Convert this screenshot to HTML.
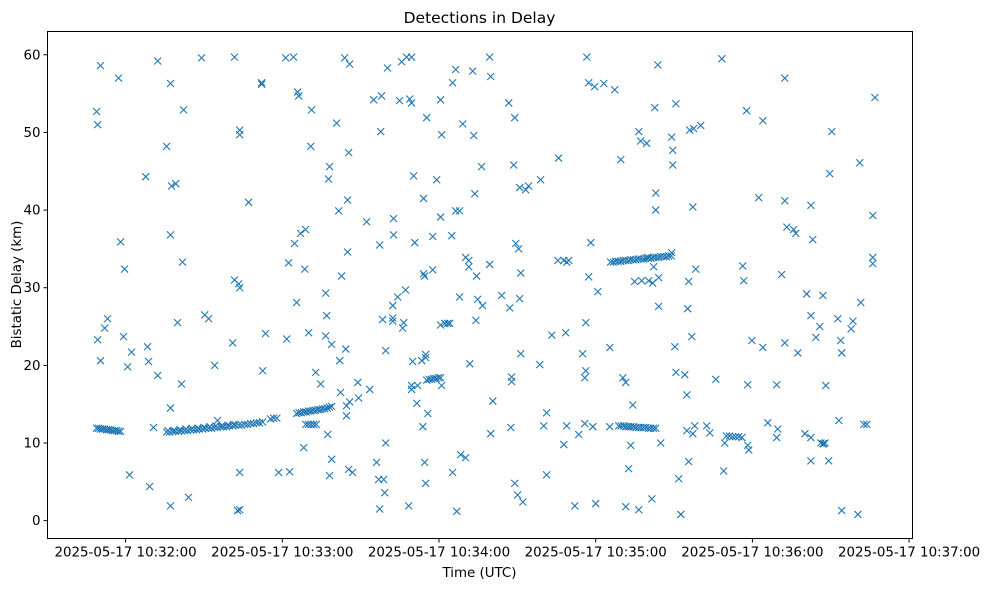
<!DOCTYPE html>
<html><head><meta charset="utf-8"><style>
body{margin:0;background:#fff;}
svg{display:block;font-family:"DejaVu Sans","Liberation Sans",sans-serif;}
</style></head><body>
<svg id="chart" width="989" height="590" viewBox="0 0 989 590" xmlns="http://www.w3.org/2000/svg">
<rect x="0" y="0" width="989" height="590" fill="#fff"/>
<text x="479.5" y="23" font-size="15.5" text-anchor="middle">Detections in Delay</text>
<g id="marks"></g>
<rect x="47.5" y="31.5" width="865" height="507" fill="none" stroke="#000" stroke-width="1"/>
<g id="xaxis"></g>
<g id="yaxis"></g>
<text x="479.5" y="577" font-size="13.4" text-anchor="middle">Time (UTC)</text>
<text x="0" y="0" font-size="13.4" text-anchor="middle" transform="translate(21,284.5) rotate(-90)">Bistatic Delay (km)</text>
</svg>
<script>
// seconds after 10:31:00 UTC
const xTickValues = [60, 120, 180, 240, 300, 360];
const xTickLabels = ["2025-05-17 10:32:00","2025-05-17 10:33:00","2025-05-17 10:34:00","2025-05-17 10:35:00","2025-05-17 10:36:00","2025-05-17 10:37:00"];
const yTickValues = [0, 10, 20, 30, 40, 50, 60];
const yTickLabels = ["0","10","20","30","40","50","60"];
// detections: [time seconds, delay km]
const detections = [
[48.9,11.9],[49.7,11.9],[50.4,11.8],[51.2,11.8],[52.0,11.8],[52.7,11.7],[53.5,11.7],[54.3,11.7],[55.0,11.6],[55.8,11.6],[56.6,11.6],[57.3,11.5],[58.1,11.5],
[48.9,52.7],[49.3,51.0],[50.4,58.6],[49.3,23.3],[50.4,20.6],[52.0,24.8],[53.1,26.0],[57.3,57.0],[58.1,35.9],[59.6,32.4],[59.2,23.7],[60.8,19.8],[62.3,21.7],[61.5,5.9],[67.7,44.3],[68.4,22.4],[68.8,20.5],[69.2,4.4],[70.7,12.0],[72.3,18.7],[72.3,59.2],[75.7,48.2],[77.2,56.3],[77.2,36.8],[77.6,43.1],[79.2,43.4],[77.2,14.5],[77.2,1.9],[79.9,25.5],[81.4,17.6],[81.8,33.3],[82.2,52.9],[84.1,3.0],[89.1,59.6],[90.3,26.5],[91.8,26.0],[94.1,20.0],[95.2,12.9],[101.0,22.9],[101.7,59.7],[101.7,31.0],[103.3,30.5],[103.7,30.0],[103.7,50.3],[103.7,49.7],[102.9,1.3],[103.7,1.4],[103.7,6.2],[107.1,41.0],[112.1,56.4],[112.1,56.2],[112.5,19.3],[113.6,24.1],[118.6,6.2],[121.3,59.6],[124.3,59.7],[122.8,6.3],[121.7,23.4],[122.4,33.2],[124.7,35.7],[125.5,28.1],[125.9,55.2],[126.3,54.7],[127.0,37.0],[128.9,37.5],[128.6,32.4],[128.2,9.4],[130.1,24.2],[130.9,48.2],[131.2,52.9],[132.8,19.1],[134.7,17.6],[136.6,29.3],[136.6,23.8],[137.0,26.4],[137.7,44.0],[138.1,45.6],[137.4,11.1],[138.1,5.8],[138.9,7.9],[138.9,22.7],[138.9,14.7],[140.8,51.2],[141.6,39.9],[142.7,31.5],[142.3,16.5],[142.0,20.6],[143.9,59.6],[145.8,58.8],[145.0,41.3],[145.4,47.4],[145.0,34.6],[144.3,22.1],[144.6,14.8],[144.6,13.5],[145.4,6.6],[145.8,15.3],[146.9,6.2],[148.9,17.8],[149.2,15.8],[152.3,38.5],[153.5,16.9],[155.0,54.2],[156.1,7.5],[156.9,5.3],[157.3,1.5],[157.3,35.5],[157.7,50.1],[158.0,54.7],[158.4,25.9],[158.8,5.3],[159.2,3.6],[159.6,10.0],[159.6,21.9],[160.3,58.3],[162.3,27.7],[162.3,26.1],[162.3,25.7],[162.6,38.9],[162.6,36.8],[164.2,28.8],[164.9,54.1],[165.7,59.1],[166.1,24.8],[166.5,25.5],[167.2,29.7],[167.6,59.7],[168.4,1.9],[168.8,54.3],[169.5,16.9],[169.5,17.4],[169.5,53.8],[169.5,59.7],[170.7,35.8],[170.3,44.4],[169.9,20.5],[171.5,15.1],[171.8,17.4],[173.4,20.6],[173.8,12.1],[174.1,41.5],[174.9,21.0],[174.1,31.8],[174.5,31.5],[174.9,21.4],[174.5,7.5],[174.9,4.8],[175.3,51.9],[175.7,13.8],[177.6,32.3],[177.6,36.6],[179.1,43.9],[180.6,54.2],[181.0,49.7],[180.6,39.1],[180.6,25.2],[181.0,17.4],[182.2,25.4],[183.3,25.4],[184.1,25.4],[184.9,36.7],[185.2,56.4],[185.2,6.2],[186.4,58.1],[186.4,39.9],[186.8,1.2],[187.9,39.9],[187.9,28.8],[188.3,8.5],[189.1,51.1],[190.2,8.1],[190.2,33.9],[191.4,33.5],[191.4,32.7],[191.8,20.2],[192.9,57.9],[193.3,49.6],[193.7,42.1],[194.1,25.8],[194.4,31.5],[196.3,45.6],[196.7,27.7],[194.8,28.5],[199.4,59.7],[199.8,57.2],[199.4,33.0],[199.8,11.2],[200.6,15.4],[204.0,29.0],[206.7,53.8],[207.1,27.4],[207.5,12.0],[207.8,18.5],[207.8,17.9],[209.0,51.9],[209.0,4.8],[208.6,45.8],[209.4,35.7],[210.5,35.0],[210.9,42.9],[210.9,28.6],[210.1,3.3],[211.3,31.9],[211.3,21.5],[212.1,2.4],[213.2,42.6],[214.3,43.1],[218.6,20.1],[218.9,43.9],[220.1,12.2],[221.2,5.9],[221.2,13.9],[223.2,23.9],[225.5,33.5],[225.8,46.7],[227.8,33.5],[228.9,33.3],[229.7,33.5],[227.8,9.8],[228.5,24.2],[228.9,12.2],[232.0,1.9],[233.5,11.1],[235.0,21.5],[236.2,25.5],[236.6,59.7],[235.8,12.5],[235.8,18.4],[236.2,19.3],[237.3,31.4],[237.3,56.4],[238.1,35.8],[238.9,12.1],[239.6,55.9],[240.0,2.2],[240.8,29.5],[243.1,56.3],[245.4,12.1],[245.4,22.3],[247.3,55.5],[249.6,46.5],[250.4,18.4],[251.5,17.8],[251.5,1.8],[252.6,6.7],[253.4,9.7],[254.2,14.9],[254.9,30.8],[256.5,50.1],[256.5,1.4],[257.2,48.9],[257.6,30.9],[259.5,48.6],[259.9,33.9],[260.3,30.9],[261.5,2.8],[261.8,30.6],[262.2,32.7],[262.6,53.2],[263.0,42.2],[263.0,40.0],[263.8,58.7],[264.1,31.3],[264.1,27.6],[264.9,10.0],[269.1,34.5],[269.5,47.7],[269.1,49.4],[269.5,45.8],[270.7,53.7],[270.3,22.4],[270.7,19.1],[271.8,5.4],[272.6,0.8],[274.1,18.8],[274.9,16.2],[274.9,11.6],[275.2,27.3],[275.6,7.6],[276.0,50.3],[275.6,30.8],[276.8,23.7],[277.2,40.4],[277.5,50.5],[277.2,11.2],[277.9,12.2],[278.3,32.4],[280.2,50.9],[282.5,12.2],[283.7,11.3],[286.0,18.2],[288.3,59.5],[289.0,6.4],[289.4,10.0],[296.3,32.8],[296.7,30.9],[297.8,52.8],[298.2,17.5],[298.2,9.7],[298.6,9.1],[299.8,23.2],[302.4,41.6],[304.0,22.3],[304.0,51.5],[305.9,12.6],[309.3,17.5],[309.3,10.7],[309.7,11.8],[311.2,31.7],[312.4,22.9],[312.4,57.0],[312.4,41.2],[313.2,37.8],[315.8,37.5],[316.6,37.0],[317.4,21.6],[320.1,11.2],[320.8,29.2],[322.4,40.6],[322.4,26.4],[322.4,10.7],[322.4,7.7],[323.1,36.2],[324.3,23.6],[325.8,25.0],[327.0,29.0],[327.3,9.9],[328.1,17.4],[329.2,7.7],[329.6,44.7],[330.4,50.1],[332.7,26.0],[333.1,12.9],[333.8,23.2],[334.2,21.6],[334.2,1.3],[337.8,24.7],[338.5,25.7],[340.4,0.8],[341.1,46.1],[341.5,28.1],[342.7,12.4],[343.8,12.4],[346.1,39.3],[346.1,33.9],[346.1,33.1],[346.9,54.5],
[75.7,11.4],[76.8,11.4],[78.0,11.5],[79.1,11.5],[80.3,11.5],[81.4,11.6],[82.6,11.6],[83.7,11.6],[84.9,11.7],[86.0,11.7],[87.2,11.7],[88.3,11.8],[89.5,11.8],[90.6,11.9],[91.8,11.9],[92.9,11.9],[94.1,12.0],[95.2,12.0],[96.4,12.1],[97.5,12.1],[98.7,12.1],[99.8,12.2],[101.0,12.2],[102.1,12.3],[103.3,12.3],[104.4,12.3],[105.6,12.4],[106.7,12.4],[107.9,12.5],[109.0,12.5],[110.2,12.6],[111.3,12.6],[112.5,12.7],
[76.2,11.6],[78.5,11.6],[80.8,11.7],[83.1,11.8],[85.4,11.9],[87.7,11.9],[90.0,12.0],[92.3,12.1],[94.6,12.2],[96.9,12.2],[99.2,12.3],[101.5,12.4],
[115.5,13.1],[116.7,13.2],[117.9,13.2],
[125.5,13.8],[126.4,13.9],[127.3,13.9],[128.2,14.0],[129.1,14.0],[130.0,14.1],[130.9,14.1],[131.8,14.2],[132.7,14.2],[133.6,14.3],[134.5,14.3],[135.4,14.4],[136.3,14.4],[137.2,14.5],[138.1,14.6],
[129.0,12.4],[130.0,12.4],[131.0,12.4],[132.0,12.4],[133.0,12.4],
[175.3,18.1],[176.2,18.2],[177.1,18.2],[178.0,18.3],[178.9,18.3],[179.8,18.4],[180.6,18.4],
[245.7,33.3],[246.7,33.3],[247.6,33.4],[248.6,33.4],[249.6,33.4],[250.5,33.5],[251.5,33.5],[252.5,33.5],[253.4,33.6],[254.4,33.6],[255.4,33.6],[256.3,33.7],[257.3,33.7],[258.3,33.7],[259.2,33.8],[260.2,33.8],[261.2,33.8],[262.1,33.9],[263.1,33.9],[264.1,33.9],[265.0,34.0],[266.0,34.0],[267.0,34.0],[267.9,34.1],[268.9,34.1],
[248.8,12.2],[249.7,12.2],[250.7,12.2],[251.6,12.1],[252.6,12.1],[253.5,12.1],[254.5,12.1],[255.4,12.0],[256.4,12.0],[257.3,12.0],[258.3,12.0],[259.2,12.0],[260.2,11.9],[261.1,11.9],[262.1,11.9],[263.0,11.9],
[290.0,10.9],[291.2,10.9],[292.4,10.8],[293.6,10.8],[294.8,10.8],[296.0,10.7],
[326.2,10.0],[327.0,9.9],[327.8,10.0]
];

const X0 = 47.5, X1 = 912.5, Y0 = 538.5, Y1 = 31.5;
const tMin = 30.1, tMax = 361.3, kMin = -2.3, kMax = 63.0;
function xScale(t){ return X0 + (t - tMin) / (tMax - tMin) * (X1 - X0); }
function yScale(k){ return Y0 - (k - kMin) / (kMax - kMin) * (Y0 - Y1); }
const NS = "http://www.w3.org/2000/svg";

const marks = document.getElementById("marks");
detections.forEach(function(d){
  const x = xScale(d[0]), y = yScale(d[1]), s = 3.5;
  const p = document.createElementNS(NS, "path");
  p.setAttribute("d", "M"+(x-s)+","+(y-s)+"L"+(x+s)+","+(y+s)+"M"+(x-s)+","+(y+s)+"L"+(x+s)+","+(y-s));
  p.setAttribute("stroke", "#1f77b4");
  p.setAttribute("stroke-width", "1.1");
  p.setAttribute("fill", "none");
  
  
  marks.appendChild(p);
});

const xaxis = document.getElementById("xaxis");
xTickValues.forEach(function(v, i){
  const x = xScale(v);
  const l = document.createElementNS(NS, "line");
  l.setAttribute("x1", x); l.setAttribute("x2", x);
  l.setAttribute("y1", Y0); l.setAttribute("y2", Y0 + 4);
  l.setAttribute("stroke", "#000");
  
  
  xaxis.appendChild(l);
  const t = document.createElementNS(NS, "text");
  t.setAttribute("x", x); t.setAttribute("y", Y0 + 18);
  t.setAttribute("font-size", "13.4"); t.setAttribute("text-anchor", "middle");
  t.textContent = xTickLabels[i];
  
  
  xaxis.appendChild(t);
});

const yaxis = document.getElementById("yaxis");
yTickValues.forEach(function(v, i){
  const y = yScale(v);
  const l = document.createElementNS(NS, "line");
  l.setAttribute("x1", X0 - 4); l.setAttribute("x2", X0);
  l.setAttribute("y1", y); l.setAttribute("y2", y);
  l.setAttribute("stroke", "#000");
  
  
  yaxis.appendChild(l);
  const t = document.createElementNS(NS, "text");
  t.setAttribute("x", X0 - 7); t.setAttribute("y", y + 4.5);
  t.setAttribute("font-size", "13.4"); t.setAttribute("text-anchor", "end");
  t.textContent = yTickLabels[i];
  
  
  yaxis.appendChild(t);
});
</script>
</body></html>
